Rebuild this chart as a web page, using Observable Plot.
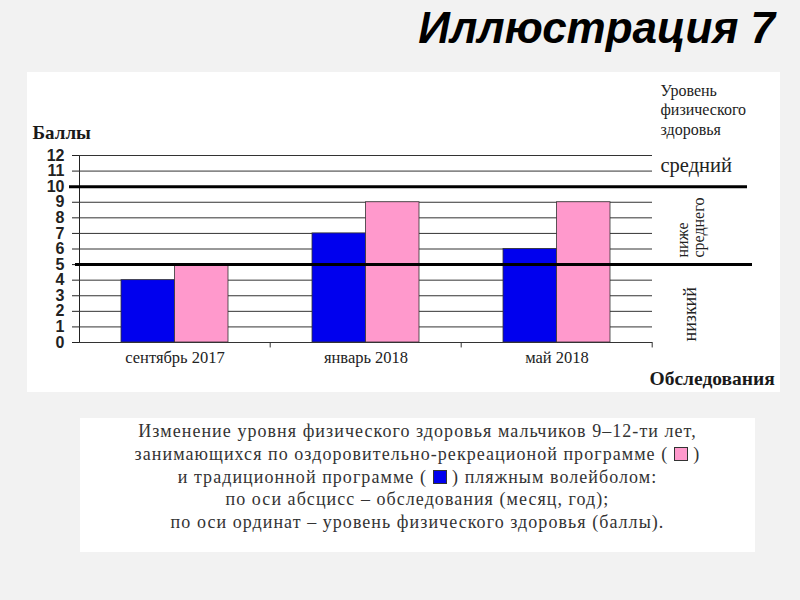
<!DOCTYPE html>
<html><head><meta charset="utf-8">
<script src="https://cdn.jsdelivr.net/npm/d3@7"></script>
<script src="https://cdn.jsdelivr.net/npm/@observablehq/plot@0.6"></script>
<style>
body{margin:0;background:#f2f2f2;width:800px;height:600px;position:relative;overflow:hidden;font-family:"Liberation Serif",serif}
#title{position:absolute;right:25px;top:6px;font:italic bold 44px "Liberation Sans",Arial,sans-serif;line-height:1;color:#000;white-space:nowrap}
#chart{position:absolute;left:27px;top:72px;background:#fff;width:753px;height:320px}
#caption{position:absolute;left:80px;top:418px;width:675px;height:134px;background:#fff;text-align:center;font:18px/22.8px "Liberation Serif",serif;letter-spacing:1.05px;color:#333;padding-top:2px;box-sizing:border-box;white-space:nowrap}
.sq{display:inline-block;width:12px;height:12px;border:1px solid #333;vertical-align:-1px}
#chart g[aria-label^="y-axis"] text{font-family:"Liberation Sans Narrow","Liberation Sans",Arial,sans-serif;font-weight:bold;font-size:16px;fill:#222}
#chart g[aria-label^="x-axis"] text{font-family:"Liberation Serif",serif;font-size:16.5px;fill:#222}
</style></head><body>
<div id="title">Иллюстрация 7</div>
<div id="chart"></div>
<div id="caption">Изменение уровня физического здоровья мальчиков 9–12-ти лет,<br>занимающихся по оздоровительно-рекреационой программе ( <span class="sq" style="background:#ff99cc"></span> )<br>и традиционной программе ( <span class="sq" style="background:#0000ee"></span> ) пляжным волейболом:<br>по оси абсцисс – обследования (месяц, год);<br>по оси ординат – уровень физического здоровья (баллы).</div>
<script>
const categories = ["сентябрь 2017", "январь 2018", "май 2018"];
const traditional = [4, 7, 6];     // blue
const recreational = [5, 9, 9];    // pink
const yTicks = [0,1,2,3,4,5,6,7,8,9,10,11,12];
const boundaries = [5, 10];
const levels = [
  {name: "средний", lo: 10, hi: 12},
  {name: "ниже\nсреднего", lo: 5, hi: 10},
  {name: "низкий", lo: 0, hi: 5}
];

const blueColor = "#0000ee";
const pinkColor = "#ff99cc";

const tradData = categories.map((c, i) => ({cat: c, v: traditional[i]}));
const recData = categories.map((c, i) => ({cat: c, v: recreational[i]}));
const half = 53.5;
const serif = "Liberation Serif, serif";

const chart = Plot.plot({
  width: 753,
  height: 320,
  marginLeft: 52,
  marginRight: 128,
  marginTop: 83,
  marginBottom: 50,
  style: {background: "white", color: "#222", fontFamily: serif},
  x: {domain: categories, paddingInner: 0.44, paddingOuter: 0.22, label: null, tickSize: 0, tickPadding: 9},
  y: {domain: [0, 12], ticks: yTicks, tickSize: 7, tickPadding: 8, label: null, line: true, tickFormat: d => String(d)},
  marks: [
    Plot.ruleY(yTicks.filter(d => d > 0), {stroke: "#333", strokeWidth: 1}),
    Plot.barY(tradData, {x: "cat", y: "v", fill: blueColor, stroke: "#333", strokeWidth: 0.8, insetRight: half}),
    Plot.barY(recData, {x: "cat", y: "v", fill: pinkColor, stroke: "#333", strokeWidth: 0.8, insetLeft: half}),
    Plot.ruleY([boundaries[1]], {stroke: "#000", strokeWidth: 3, insetLeft: -10, insetRight: -95}),
    Plot.ruleY([boundaries[0]], {stroke: "#000", strokeWidth: 3, insetLeft: -4, insetRight: -100}),
    Plot.ruleY([0], {stroke: "#333", strokeWidth: 1}),
    Plot.ruleX(categories, {x: d => d, y1: 0, y2: -0.35, dx: 95.2, stroke: "#333"}),
    Plot.text(["Баллы"], {frameAnchor: "top-left", dx: -47, dy: -17, textAnchor: "start", lineAnchor: "bottom", fontWeight: "bold", fontSize: 19, fontFamily: serif, fill: "#1a1a1a"}),
    Plot.text(["Обследования"], {frameAnchor: "bottom-right", dx: -3, dy: 36, textAnchor: "start", lineAnchor: "middle", fontWeight: "bold", fontSize: 19.5, fontFamily: serif, fill: "#1a1a1a"}),
    Plot.text(["Уровень\nфизического\nздоровья"], {frameAnchor: "top-right", dx: 8, dy: -73, textAnchor: "start", lineAnchor: "top", lineHeight: 1.2, fontSize: 16, fontFamily: serif, fill: "#222"}),
    Plot.text(levels.filter(d => d.lo === 10), {y: d => (d.lo + d.hi) / 2, text: "name", frameAnchor: "right", dx: 8, dy: -6, textAnchor: "start", fontSize: 20.5, fontFamily: serif, fill: "#222"}),
    Plot.text(levels.filter(d => d.lo === 5), {y: "lo", text: "name", frameAnchor: "right", dx: 38, dy: -7, rotate: -90, textAnchor: "start", lineAnchor: "middle", lineHeight: 1.0, fontSize: 16, fontFamily: serif, fill: "#222"}),
    Plot.text(levels.filter(d => d.lo === 0), {y: "lo", text: "name", frameAnchor: "right", dx: 38, dy: -1, rotate: -90, textAnchor: "start", lineAnchor: "middle", fontSize: 18, fontFamily: serif, fill: "#222"})
  ]
});
document.getElementById("chart").appendChild(chart);
</script>
</body></html>
